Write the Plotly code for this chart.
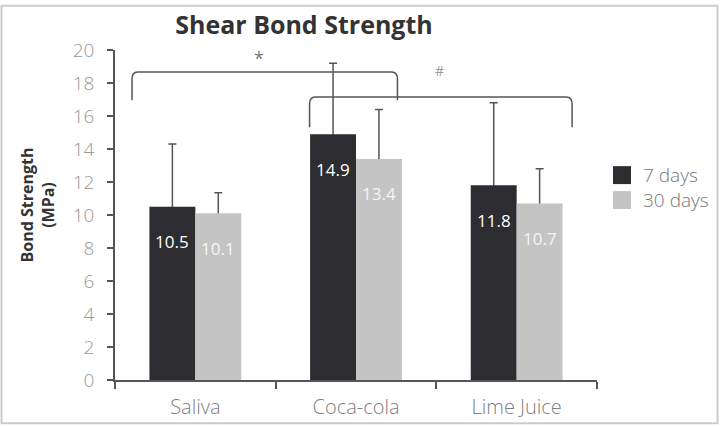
import plotly.graph_objects as go

categories = ["Saliva", "Coca-cola", "Lime Juice"]
series_names = ["7 days", "30 days"]
values_7 = [10.5, 14.9, 11.8]
values_30 = [10.1, 13.4, 10.7]
err_7 = [3.8, 4.3, 5.0]
err_30 = [1.25, 3.0, 2.1]
y_ticks = [0, 2, 4, 6, 8, 10, 12, 14, 16, 18, 20]

DARK = "#2c2c31"
LIGHT = "#c4c4c4"
AXIS = "#555555"
FONT = "Open Sans"
BOLD_FONT = "Open Sans"

xs = list(range(len(categories)))
BAR_W = 0.2857
offsets = [-BAR_W, 0.0]

series = [(series_names[0], values_7, err_7, DARK),
          (series_names[1], values_30, err_30, LIGHT)]

fig = go.Figure()
# error bars first (carried by transparent bars) so the opaque bars hide the lower cap
for (name, vals, errs, col), off in zip(series, offsets):
    fig.add_trace(go.Bar(
        x=xs, y=vals, name=name + " error", width=BAR_W, offset=off,
        marker=dict(color="rgba(0,0,0,0)", line=dict(width=0)),
        error_y=dict(type="data", array=errs, arrayminus=[0.4] * len(errs), symmetric=False,
                     color=AXIS, thickness=1.5, width=4),
        showlegend=False, hoverinfo="skip",
    ))
for (name, vals, errs, col), off in zip(series, offsets):
    fig.add_trace(go.Bar(
        x=xs, y=vals, name=name, width=BAR_W, offset=off,
        marker=dict(color=col, line=dict(width=0)),
        showlegend=False, hoverinfo="skip",
    ))

annotations = []
# value labels inside bars
for i, (v7, v30) in enumerate(zip(values_7, values_30)):
    annotations.append(dict(x=xs[i], y=v7, xref="x", yref="y", text=f"{v7:.1f}", showarrow=False,
                            xshift=-23, yshift=-35, yanchor="middle",
                            font=dict(family=FONT, size=17, color="#ffffff")))
    annotations.append(dict(x=xs[i], y=v30, xref="x", yref="y", text=f"{v30:.1f}", showarrow=False,
                            xshift=23, yshift=-35, yanchor="middle",
                            font=dict(family=FONT, size=17, color="#f4f4f4")))

shapes = []
# significance brackets (x in group-index units, y in data units)
brackets = [
    dict(x0=-0.394, x1=1.258, top=18.66, bottom=16.95, label="*", lx=0.394, ly=19.5, size=18, color="#777777"),
    dict(x0=0.711, x1=2.345, top=17.15, bottom=15.32, label="#", lx=1.519, ly=18.76, size=14, color="#999999"),
]
for b in brackets:
    dx, dy = 0.035, 0.45
    path = (f"M {b['x0']},{b['bottom']} L {b['x0']},{b['top']-dy} "
            f"Q {b['x0']},{b['top']} {b['x0']+dx},{b['top']} "
            f"L {b['x1']-dx},{b['top']} Q {b['x1']},{b['top']} {b['x1']},{b['top']-dy} "
            f"L {b['x1']},{b['bottom']}")
    shapes.append(dict(type="path", path=path, xref="x", yref="y",
                       line=dict(color=AXIS, width=1.5)))
    annotations.append(dict(x=b["lx"], y=b["ly"], xref="x", yref="y", text=b["label"],
                            showarrow=False, font=dict(family=FONT, size=b["size"], color=b["color"])))

# manual legend
W, H = 720.0, 426.0
L, R, T, B = 115.0, 123.0, 49.5, 45.5
pw, ph = W - L - R, H - T - B
def px(x):
    return (x - L) / pw
def py(y):
    return (H - B - y) / ph

for k, (name, col) in enumerate(zip(series_names, [DARK, LIGHT])):
    yc = 175 + 25 * k
    shapes.append(dict(type="rect", xref="paper", yref="paper",
                       x0=px(613), x1=px(631), y0=py(yc - 9), y1=py(yc + 9),
                       fillcolor=col, line=dict(width=0)))
    annotations.append(dict(x=px(641), y=py(yc), xref="paper", yref="paper", text=name,
                            showarrow=False, xanchor="left", yanchor="middle",
                            font=dict(family=FONT, size=19, color="#777777", weight=300)))

# y-axis title
annotations.append(dict(x=px(37.5), y=py(205), xref="paper", yref="paper",
                        text="<b>Bond Strength</b><br><b>(MPa)</b>", textangle=-90,
                        showarrow=False, xanchor="center", yanchor="middle",
                        font=dict(family=BOLD_FONT, size=16, color="#333333")))

# figure border
shapes.append(dict(type="rect", xref="paper", yref="paper",
                   x0=px(1.5), x1=px(717.5), y0=py(424), y1=py(5),
                   line=dict(color="#cccccc", width=2)))

fig.update_layout(
    width=720, height=426,
    margin=dict(l=L, r=R, t=T, b=B, pad=0, autoexpand=False),
    paper_bgcolor="white", plot_bgcolor="white",
    barmode="overlay",
    title=dict(text="<b>Shear Bond Strength</b>", x=304 / W, xanchor="center",
               y=1 - 25 / H, yanchor="middle", yref="container",
               font=dict(family=BOLD_FONT, size=25, color="#333333")),
    xaxis=dict(range=[-0.5, 2.5], tickvals=xs, ticktext=categories, ticks="", automargin=False,
               showgrid=False, zeroline=False, showline=True, linecolor=AXIS, linewidth=1.5,
               tickfont=dict(family=FONT, size=20, color="#808080", weight=300), ticklabelstandoff=8,
               minor=dict(ticks="outside", tick0=-0.5, dtick=1, ticklen=7,
                          tickcolor=AXIS, tickwidth=1.5, showgrid=False)),
    yaxis=dict(range=[0, 20], tickvals=y_ticks, ticks="outside", ticklen=6, automargin=False,
               tickcolor=AXIS, tickwidth=1.5, showgrid=False, zeroline=False,
               showline=True, linecolor=AXIS, linewidth=1.5,
               tickfont=dict(family=FONT, size=19, color="#999999", weight=300),
               ticklabelstandoff=9),
    shapes=shapes, annotations=annotations, font=dict(family=FONT),
)

fig.write_html("out.html")
